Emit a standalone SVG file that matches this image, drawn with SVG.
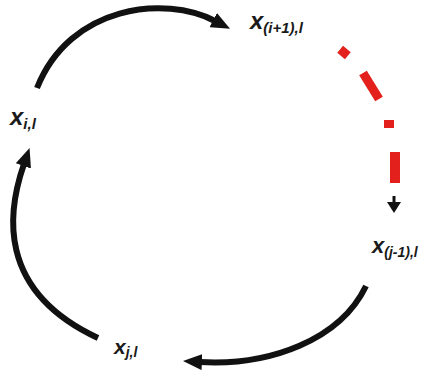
<svg xmlns="http://www.w3.org/2000/svg" width="424" height="372" viewBox="0 0 424 372">
<style>
.arc{fill:none;stroke:#111;stroke-width:6;stroke-linecap:butt}
.red{fill:none;stroke:#e3201b;stroke-linecap:butt}
.lbl{font-family:"Liberation Sans",Arial,sans-serif;font-style:italic;font-weight:bold;fill:#1a1a1a}
</style>
<defs>
<marker id="ah" viewBox="0 0 19 16" markerWidth="19" markerHeight="16" refX="2" refY="8" orient="auto" markerUnits="userSpaceOnUse">
<path d="M0,0 L19,8 L0,16 z" fill="#111"/>
</marker>
</defs>
<rect width="424" height="372" fill="#fff"/>
<g id="connectors">
<path class="arc" d="M 37 88 C 70 5, 165 -5, 215 21" marker-end="url(#ah)"/>
<path class="arc" d="M 98 338 C -5 290, 8 210, 24 164" marker-end="url(#ah)"/>
<path class="arc" d="M 366 286 C 340 340, 270 366, 200 362" marker-end="url(#ah)"/>
<g id="dashed">
<rect x="339" y="48" width="10" height="9" fill="#e3201b" transform="rotate(40 344 52.5)"/>
<line class="red" x1="363" y1="73" x2="379" y2="99" stroke-width="9"/>
<rect x="384" y="120" width="10" height="8" fill="#e3201b"/>
<line class="red" x1="395" y1="152" x2="395" y2="183" stroke-width="10"/>
<line x1="394" y1="196" x2="394" y2="204" stroke="#111" stroke-width="3"/>
<polygon points="387,202 401,202 394,213" fill="#111"/>
</g>
</g>
<g id="node-xi1"><text class="lbl" x="250" y="29" font-size="24">x<tspan font-size="15" dy="4">(i+1),l</tspan></text></g>
<g id="node-xi"><text class="lbl" x="10" y="125" font-size="24">x<tspan font-size="15" dy="4">i,l</tspan></text></g>
<g id="node-xj"><text class="lbl" x="114" y="354" font-size="21">x<tspan font-size="14" dy="3">j,l</tspan></text></g>
<g id="node-xj1"><text class="lbl" x="372" y="253" font-size="22">x<tspan font-size="14" dy="4">(j-1),l</tspan></text></g>
</svg>
